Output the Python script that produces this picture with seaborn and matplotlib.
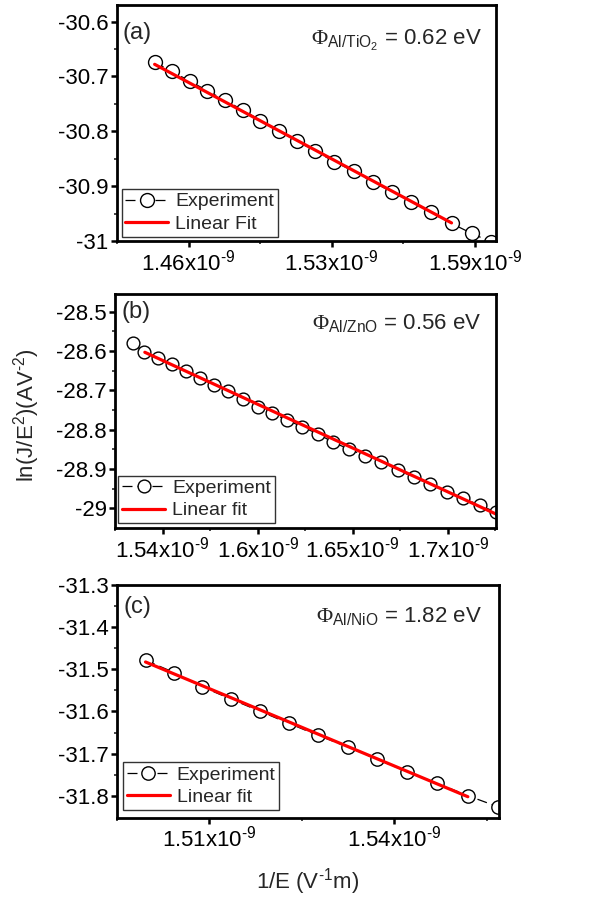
import numpy as np
import pandas as pd
import matplotlib
matplotlib.use('Agg')
import matplotlib.pyplot as plt
import seaborn as sns

# dados (1/E em unidades de 1e-9 V^-1 m)
xa = [1.4446, 1.4526, 1.4606, 1.4686, 1.4764, 1.4846, 1.4927, 1.5009, 1.5092, 1.5176,
      1.5263, 1.5351, 1.5437, 1.5526, 1.5611, 1.5702, 1.5795, 1.5886, 1.5975]
ya = [-30.6745, -30.6909, -30.709, -30.726, -30.7436, -30.761, -30.7805, -30.7987, -30.818, -30.836,
      -30.8556, -30.873, -30.892, -30.911, -30.928, -30.948, -30.968, -30.986, -31.0018]
fit_xa = [1.4446, 1.5795]
fit_ya = [-30.678, -30.967]

xb = [1.5344, 1.5404, 1.5477, 1.5549, 1.5623, 1.5695, 1.5773, 1.5846, 1.5922, 1.6000,
      1.6077, 1.6156, 1.6236, 1.6317, 1.6397, 1.6482, 1.6565, 1.6651, 1.6737, 1.6822,
      1.6909, 1.6997, 1.7083, 1.7171, 1.7254]
yb = [-28.5804, -28.6033, -28.6186, -28.634, -28.651, -28.668, -28.686, -28.702, -28.723, -28.742,
      -28.7586, -28.776, -28.793, -28.811, -28.832, -28.850, -28.8664, -28.8817, -28.902, -28.9214,
      -28.939, -28.9588, -28.975, -28.9926, -29.0104]
fit_xb = [1.5407, 1.7270]
fit_yb = [-28.6033, -29.0183]

xc = [1.49967, 1.50432, 1.50890, 1.51355, 1.51819, 1.52294, 1.52764, 1.53243, 1.53723,
      1.54209, 1.54694, 1.55190, 1.55675]
yc = [-31.4787, -31.5078, -31.5419, -31.571, -31.5994, -31.6285, -31.657, -31.684, -31.7137,
      -31.743, -31.7705, -31.7999, -31.826]
fit_xc = [1.49967, 1.5519]
fit_yc = [-31.4827, -31.8023]

# ticks
xt_a = [1.46, 1.525, 1.59]
xl_a = ['1.46', '1.53', '1.59']
yt_a = [-30.6, -30.7, -30.8, -30.9, -31.0]
yl_a = ['-30.6', '-30.7', '-30.8', '-30.9', '-31']

xt_b = [1.55, 1.60, 1.65, 1.70]
xl_b = ['1.54', '1.6', '1.65', '1.7']
yt_b = [-28.5, -28.6, -28.7, -28.8, -28.9, -29.0]
yl_b = ['-28.5', '-28.6', '-28.7', '-28.8', '-28.9', '-29']

xt_c = [1.51, 1.54]
xl_c = ['1.51', '1.54']
yt_c = [-31.3, -31.4, -31.5, -31.6, -31.7, -31.8]
yl_c = ['-31.3', '-31.4', '-31.5', '-31.6', '-31.7', '-31.8']

sns.set_theme(style='ticks')
plt.rcParams['font.family'] = ['Liberation Sans', 'DejaVu Sans']
plt.rcParams['mathtext.fontset'] = 'custom'
plt.rcParams['mathtext.rm'] = 'Liberation Sans'
plt.rcParams['mathtext.it'] = 'Liberation Sans:italic'
plt.rcParams['mathtext.bf'] = 'Liberation Sans:bold'
plt.rcParams['mathtext.sf'] = 'Liberation Serif'
plt.rcParams['axes.unicode_minus'] = False

fig = plt.figure(figsize=(5.93, 9.02), dpi=100)

paineis = [
    dict(pos=[0.1973, 0.7328, 0.6391, 0.2616], x=xa, y=ya, fx=fit_xa, fy=fit_ya,
         xlim=(1.4376, 1.5997), ylim=(-31.0, -30.57), xt=xt_a, xl=xl_a, yt=yt_a, yl=yl_a,
         letra='(a)', lpos=(0.015, 0.883), sub='Al/TiO_2', val='0.62', tpos=(0.962, 0.8305),
         fit_lab='Linear Fit', leg=(0.012, 0.018), ms=10),
    dict(pos=[0.1939, 0.4143, 0.6425, 0.2598], x=xb, y=yb, fx=fit_xb, fy=fit_yb,
         xlim=(1.5356, 1.7254), ylim=(-29.051, -28.455), xt=xt_b, xl=xl_b, yt=yt_b, yl=yl_b,
         letra='(b)', lpos=(0.0176, 0.924), sub='Al/ZnO', val='0.56', tpos=(0.9625, 0.8506),
         fit_lab='Linear fit', leg=(0.009, 0.021), ms=9.2),
    dict(pos=[0.1968, 0.0935, 0.6447, 0.258], x=xc, y=yc, fx=fit_xc, fy=fit_yc,
         xlim=(1.4971, 1.55695), ylim=(-31.852, -31.30), xt=xt_c, xl=xl_c, yt=yt_c, yl=yl_c,
         letra='(c)', lpos=(0.017, 0.907), sub='Al/NiO', val='1.82', tpos=(0.955, 0.8397),
         fit_lab='Linear fit', leg=(0.017, 0.033), ms=9.6),
]

for p in paineis:
    ax = fig.add_axes(p['pos'])
    df = pd.DataFrame({'x': p['x'], 'y': p['y']})
    dfit = pd.DataFrame({'x': p['fx'], 'y': p['fy']})
    sns.lineplot(data=df, x='x', y='y', ax=ax, sort=False, color='black', lw=0.9,
                 linestyle=(0, (8, 4)), marker='o', markersize=p['ms'],
                 markerfacecolor='white', markeredgecolor='black', markeredgewidth=1.0,
                 label='Experiment')
    sns.lineplot(data=dfit, x='x', y='y', ax=ax, sort=False, color='#ff0000', lw=2.3,
                 label=p['fit_lab'])
    ax.set_xlim(p['xlim'])
    ax.set_ylim(p['ylim'])
    ax.set_xticks(p['xt'])
    ax.set_xticklabels([s + r'x10$^{\text{-9}}$' for s in p['xl']])
    passo = p['xt'][1] - p['xt'][0]
    menores = np.arange(p['xt'][0] - passo / 2, p['xlim'][1], passo)
    ax.set_xticks(menores, minor=True)
    ax.set_yticks(p['yt'])
    ax.set_yticklabels(p['yl'])
    ax.set_yticks(np.array(p['yt'][:-1]) - 0.05, minor=True)
    ax.set_xlabel('')
    ax.set_ylabel('')
    for s in ax.spines.values():
        s.set_linewidth(2.0)
        s.set_color('black')
    ax.tick_params(which='major', direction='out', length=4, width=1.8, labelsize=16,
                   colors='black', pad=2)
    ax.tick_params(which='minor', direction='out', length=2, width=1.2)
    ax.text(p['lpos'][0], p['lpos'][1], p['letra'], transform=ax.transAxes,
            fontsize=17, ha='left', va='center')
    ax.text(p['tpos'][0], p['tpos'][1],
            r'$\mathsf{\Phi}_{\mathrm{' + p['sub'] + '}}$ = ' + p['val'] + ' eV',
            transform=ax.transAxes, fontsize=16, ha='right', va='baseline')
    h, l = ax.get_legend_handles_labels()
    lg = ax.legend(h, l, loc='lower left', bbox_to_anchor=p['leg'], borderaxespad=0,
                   fontsize=14, frameon=True, fancybox=False, edgecolor='black',
                   handlelength=2.2, handletextpad=0.35, borderpad=0.2, labelspacing=0.25)
    lg.get_frame().set_linewidth(1.0)

fig.text(0.045, 1 - 415 / 902, r'ln(J/E$^{2}$)(AV$^{\text{-2}}$)', rotation=90,
         fontsize=16, ha='center', va='center')
fig.text(308 / 593, 1 - 882 / 902, r'1/E (V$^{\text{-1}}$m)', fontsize=16, ha='center', va='center')

fig.savefig('out.png', dpi=100)
